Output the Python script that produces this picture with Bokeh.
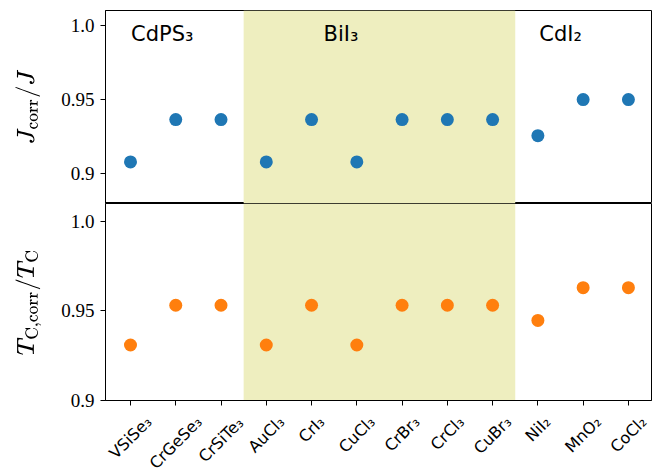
import math
from bokeh.plotting import figure
from bokeh.models import FixedTicker, BoxAnnotation, Label, Range1d, ColumnDataSource, Column
from bokeh.core.properties import value
from bokeh.layouts import column
from bokeh.embed import file_html
from bokeh.resources import INLINE

categories = ["VSiSe₃", "CrGeSe₃", "CrSiTe₃", "AuCl₃", "CrI₃", "CuCl₃",
              "CrBr₃", "CrCl₃", "CuBr₃", "NiI₂", "MnO₂", "CoCl₂"]
j_ratio = [0.908, 0.9365, 0.9365, 0.908, 0.9365, 0.908,
           0.9365, 0.9365, 0.9365, 0.9257, 0.950, 0.950]
tc_ratio = [0.931, 0.9532, 0.9532, 0.931, 0.9532, 0.931,
            0.9532, 0.9532, 0.9532, 0.9447, 0.9630, 0.9630]
groups = ["CdPS₃", "BiI₃", "CdI₂"]
bil3_first, bil3_last = 3, 8

y_ticks = [0.9, 0.95, 1.0]
y_tick_labels = {0.9: "0.9", 0.95: "0.95", 1.0: "1.0"}

xs = list(range(len(categories)))
src = ColumnDataSource(dict(x=xs, j=j_ratio, tc=tc_ratio))

W = 652
LEFT, RIGHT = 105, 1
XMIN, XMAX = -0.552, 11.51
x_range = Range1d(XMIN, XMAX)
SERIF = "Liberation Serif"
SANS = "DejaVu Sans"

# approximate DejaVu Sans advance widths (em) used to centre rotated labels
CHAR_W = {"V": 0.684, "S": 0.635, "i": 0.278, "e": 0.615, "C": 0.698,
          "r": 0.411, "G": 0.775, "T": 0.611, "A": 0.684, "u": 0.634,
          "l": 0.278, "I": 0.295, "B": 0.686, "N": 0.748, "M": 0.863,
          "n": 0.634, "O": 0.787, "o": 0.612}


def text_em(s):
    return sum(CHAR_W.get(c, 0.42) for c in s)


def style(p, ylabel):
    p.xgrid.visible = False
    p.ygrid.visible = False
    p.outline_line_color = "black"
    p.outline_line_width = 1
    p.background_fill_color = "white"
    p.border_fill_color = "white"
    ya = p.yaxis[0]
    ya.ticker = FixedTicker(ticks=y_ticks)
    ya.major_label_overrides = y_tick_labels
    ya.minor_tick_line_color = None
    ya.major_tick_out = 5
    ya.major_tick_in = 0
    ya.major_tick_line_color = "black"
    ya.axis_line_color = "black"
    ya.major_label_text_font = SERIF
    ya.major_label_text_font_size = "19px"
    ya.major_label_text_color = "black"
    ya.major_label_standoff = 6
    ya.axis_label = ylabel
    ya.axis_label_text_font = SERIF
    ya.axis_label_text_font_size = "24px"
    ya.axis_label_text_font_style = "normal"
    ya.axis_label_text_color = "black"
    ya.axis_label_standoff = 17
    shade = BoxAnnotation(left=bil3_first - 0.5, right=bil3_last + 0.5,
                          fill_color="#EEEEBF", fill_alpha=1.0,
                          line_color=None, level="underlay")
    p.add_layout(shade)


top = figure(width=W, height=203, x_range=x_range, y_range=Range1d(0.88, 1.01),
             output_backend="svg", toolbar_location=None,
             min_border_left=LEFT, min_border_right=RIGHT, min_border_top=10,
             min_border_bottom=0)
top.xaxis.visible = False
style(top, r"$$J_{\mathrm{corr}}/J$$")
top.scatter("x", "j", source=src, size=13, color="#1f77b4", line_color=None)

group_x = [0.7, 4.65, 9.5]
for name, gx in zip(groups, group_x):
    top.add_layout(Label(x=gx, y=0.9945, text=name, text_align="center",
                         text_baseline="middle", text_font=SANS,
                         text_font_size="21px", text_color="black"))

BOT_B = 10
bot = figure(width=W, height=197 + BOT_B, x_range=x_range, y_range=Range1d(0.9, 1.01),
             output_backend="svg", toolbar_location=None,
             min_border_left=LEFT, min_border_right=RIGHT, min_border_top=0,
             min_border_bottom=BOT_B)
style(bot, r"$$T_{\mathrm{C,corr}}/T_{\mathrm{C}}$$")
bot.scatter("x", "tc", source=src, size=13, color="#ff7f0e", line_color=None)
xa = bot.xaxis[0]
xa.ticker = FixedTicker(ticks=xs)
xa.major_label_overrides = {i: "" for i in xs}
xa.major_label_standoff = 0
xa.minor_tick_line_color = None
xa.major_tick_out = 5
xa.major_tick_in = 0
xa.axis_line_color = "black"
xa.major_tick_line_color = "black"

# strip below the lower panel holding the rotated category labels
LAB_H = 474 - 203 - (197 + BOT_B)
k = (W - LEFT - RIGHT) / (XMAX - XMIN)
lab = figure(width=W, height=LAB_H,
             x_range=Range1d(XMIN - LEFT / k, XMAX + RIGHT / k),
             y_range=Range1d(0, LAB_H),
             output_backend="svg", toolbar_location=None,
             min_border=0, min_border_left=0, min_border_right=0,
             min_border_top=0, min_border_bottom=0)
lab.xaxis.visible = False
lab.yaxis.visible = False
lab.xgrid.visible = False
lab.ygrid.visible = False
lab.outline_line_color = None
lab.background_fill_color = "white"
lab.border_fill_color = "white"

FS = 16
label_y = []
for name in categories:
    L = text_em(name) * FS
    h = 1.15 * FS
    off = 12 + (L + h) * math.sqrt(0.5) / 2   # below the axis line
    label_y.append(LAB_H - (off - BOT_B))
lab.text(x=xs, y=label_y, text=categories, angle=math.pi / 4,
         text_align="center", text_baseline="middle",
         text_font=value(SANS), text_font_size=value(f"{FS}px"),
         text_color="black")

layout = column(top, bot, Column(children=[lab]), spacing=0)
open("out.html", "w").write(file_html(layout, INLINE))
